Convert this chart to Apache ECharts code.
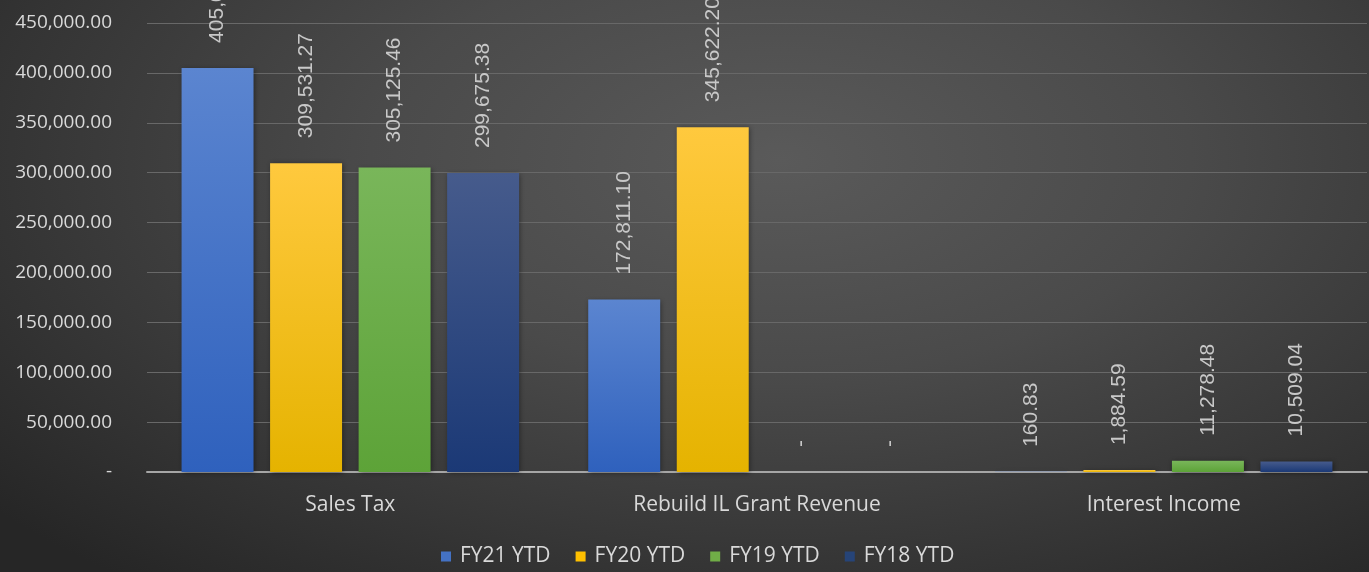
<!DOCTYPE html>
<html>
<head>
<meta charset="utf-8">
<script src="https://cdn.jsdelivr.net/npm/echarts@6/dist/echarts.min.js"></script>
<style>
html,body{margin:0;padding:0;width:1369px;height:572px;overflow:hidden;}
body{background:radial-gradient(ellipse 75% 95% at 57% 28%, #5a5a5a 0%, #4a4a4a 40%, #353535 75%, #262626 100%);}
#chart{width:1369px;height:572px;}
</style>
</head>
<body>
<div id="chart"></div>
<script>
const categories = ['Sales Tax', 'Rebuild IL Grant Revenue', 'Interest Income'];
const seriesNames = ['FY21 YTD', 'FY20 YTD', 'FY19 YTD', 'FY18 YTD'];
const fy21 = [405012.53, 172811.10, 160.83];
const fy20 = [309531.27, 345622.20, 1884.59];
const fy19 = [305125.46, 0, 11278.48];
const fy18 = [299675.38, 0, 10509.04];
const yMin = 0, yMax = 450000, yInterval = 50000;

const seriesData = [fy21, fy20, fy19, fy18];
const flatColors = ['#4472c4', '#ffc000', '#70ad47', '#264478'];
const gradients = [
  ['#5b85d0', '#2f61bd'],
  ['#ffc93e', '#e5b300'],
  ['#79b65a', '#5da338'],
  ['#465b8c', '#1b3976']
];

function fmt(v) {
  if (v === 0) return '-';
  return v.toLocaleString('en-US', {minimumFractionDigits: 2, maximumFractionDigits: 2});
}

const chart = echarts.init(document.getElementById('chart'), null, {renderer: 'canvas'});
chart.setOption({
  backgroundColor: 'transparent',
  animation: false,
  grid: {left: 147, right: 2, top: 23, bottom: 100, containLabel: false},
  legend: {
    bottom: 0,
    left: 436,
    icon: 'rect',
    itemWidth: 10,
    itemHeight: 10,
    itemGap: 25,
    textStyle: {color: '#d9d9d9', fontFamily: 'Open Sans', fontSize: 21, padding: [0, 0, 0, 4]},
    data: seriesNames.map((n, i) => ({name: n, itemStyle: {color: flatColors[i]}}))
  },
  xAxis: {
    type: 'category',
    data: categories,
    axisLine: {show: true, lineStyle: {color: '#a6a6a6', width: 2}},
    axisTick: {show: false},
    axisLabel: {color: '#d9d9d9', fontFamily: 'Open Sans', fontSize: 21, margin: 23}
  },
  yAxis: {
    type: 'value',
    min: yMin,
    max: yMax,
    interval: yInterval,
    axisLine: {show: false},
    axisTick: {show: false},
    splitLine: {lineStyle: {color: '#686868', width: 1}},
    axisLabel: {color: '#d9d9d9', fontFamily: 'Open Sans', fontSize: 19, margin: 35, formatter: fmt}
  },
  series: seriesData.map((d, i) => ({
    name: seriesNames[i],
    type: 'bar',
    data: d,
    barGap: '23%',
    barCategoryGap: '17%',
    itemStyle: {
      color: new echarts.graphic.LinearGradient(0, 0, 0, 1, [
        {offset: 0, color: gradients[i][0]},
        {offset: 1, color: gradients[i][1]}
      ]),
      shadowBlur: 5,
      shadowColor: 'rgba(0,0,0,0.45)',
      shadowOffsetX: 1,
      shadowOffsetY: 1
    },
    label: {
      show: true,
      position: 'top',
      rotate: 90,
      align: 'left',
      verticalAlign: 'middle',
      distance: 25,
      color: '#c8c8c8',
      fontFamily: 'Liberation Sans',
      fontSize: 21,
      formatter: p => fmt(p.value)
    }
  }))
});
</script>
</body>
</html>
